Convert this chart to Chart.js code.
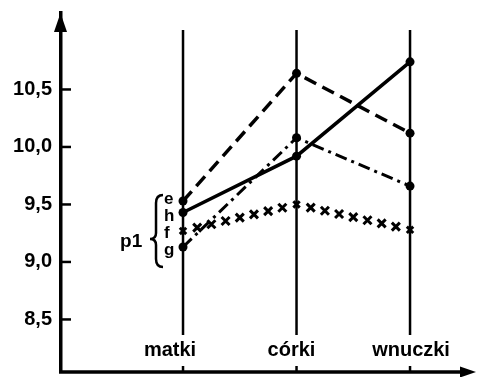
<!DOCTYPE html>
<html><head><meta charset="utf-8">
<script src="https://cdn.jsdelivr.net/npm/chart.js@4"></script>
<style>html,body{margin:0;padding:0;background:#fff;overflow:hidden}canvas{display:block}</style>
</head><body><canvas id="c" width="477" height="377"></canvas>
<script>
const categories = ['matki', 'córki', 'wnuczki'];
const seriesNames = ['e', 'h', 'f', 'g'];
const seriesE = [9.53, 10.64, 10.12];
const seriesH = [9.43, 9.92, 10.74];
const seriesF = [9.27, 9.50, 9.28];
const seriesG = [9.13, 10.08, 9.66];
const yTickValues = [8.5, 9.0, 9.5, 10.0, 10.5];
const yTickLabels = ['8,5', '9,0', '9,5', '10,0', '10,5'];
const groupLabel = 'p1';

const FONT = '"Liberation Sans", Arial, sans-serif';
const toPts = arr => arr.map((v, i) => ({x: i + 1, y: v}));

function drawCross(ctx, x, y, r) {
  ctx.beginPath();
  ctx.moveTo(x - r, y - r); ctx.lineTo(x + r, y + r);
  ctx.moveTo(x - r, y + r); ctx.lineTo(x + r, y - r);
  ctx.stroke();
}

const decor = {
  id: 'decor',
  beforeDatasetsDraw(chart) {
    const {ctx, chartArea: ca, scales: {x: xs, y: ys}} = chart;
    ctx.save();
    ctx.strokeStyle = '#000';
    ctx.fillStyle = '#000';
    // category vertical lines
    ctx.lineWidth = 2.5;
    categories.forEach((c, i) => {
      const px = xs.getPixelForValue(i + 1);
      ctx.beginPath();
      ctx.moveTo(px, ca.top + 17);
      ctx.lineTo(px, ca.bottom - 37);
      ctx.stroke();
      ctx.beginPath();
      ctx.moveTo(px, ca.bottom - 6);
      ctx.lineTo(px, ca.bottom);
      ctx.stroke();
    });
    // category labels
    const dx = [-13, -5, 1];
    ctx.font = 'bold 20px ' + FONT;
    ctx.textAlign = 'center';
    ctx.textBaseline = 'alphabetic';
    categories.forEach((c, i) => {
      const px = xs.getPixelForValue(i + 1);
      ctx.fillText(c, px + dx[i], ca.bottom - 16);
    });
    // x axis line + arrow
    ctx.lineWidth = 3.5;
    ctx.beginPath();
    ctx.moveTo(ca.left - 2, ca.bottom);
    ctx.lineTo(ca.right - 12, ca.bottom);
    ctx.stroke();
    ctx.beginPath();
    ctx.moveTo(ca.right - 1, ca.bottom);
    ctx.lineTo(ca.right - 17, ca.bottom - 5.5);
    ctx.lineTo(ca.right - 17, ca.bottom + 5.5);
    ctx.closePath();
    ctx.fill();
    // y axis arrow
    const ax = ca.left - 0.5;
    ctx.beginPath();
    ctx.moveTo(ax, ca.top);
    ctx.lineTo(ax - 6.5, ca.top + 19);
    ctx.lineTo(ax + 6.5, ca.top + 19);
    ctx.closePath();
    ctx.fill();
    // inner y ticks
    ctx.lineWidth = 2.5;
    yTickValues.forEach(v => {
      const py = ys.getPixelForValue(v);
      ctx.beginPath();
      ctx.moveTo(ca.left, py);
      ctx.lineTo(ca.left + 10, py);
      ctx.stroke();
    });
    // series letters at first category
    const x1 = xs.getPixelForValue(1);
    const yE = ys.getPixelForValue(seriesE[0]);
    ctx.font = 'bold 17px ' + FONT;
    ctx.textAlign = 'left';
    seriesNames.forEach((n, i) => {
      ctx.fillText(n, x1 - 19, yE + 3 + i * 17);
    });
    // brace
    const top = yE - 6, bot = yE + 66, mid = yE + 38;
    const xl = x1 - 33, xm = x1 - 27, xr = x1 - 20;
    ctx.lineWidth = 2.5;
    ctx.beginPath();
    ctx.moveTo(xr, top);
    ctx.quadraticCurveTo(xm, top, xm, top + 8);
    ctx.lineTo(xm, mid - 6);
    ctx.quadraticCurveTo(xm, mid, xl, mid);
    ctx.quadraticCurveTo(xm, mid, xm, mid + 6);
    ctx.lineTo(xm, bot - 8);
    ctx.quadraticCurveTo(xm, bot, xr, bot);
    ctx.stroke();
    ctx.font = 'bold 19px ' + FONT;
    ctx.fillText(groupLabel, x1 - 63, mid + 8);
    ctx.restore();
  },
  afterDatasetsDraw(chart) {
    const {ctx} = chart;
    const meta = chart.getDatasetMeta(2);
    const pts = meta.data;
    ctx.save();
    ctx.strokeStyle = '#000';
    ctx.lineWidth = 3;
    for (let i = 0; i < pts.length - 1; i++) {
      const a = pts[i], b = pts[i + 1];
      const d = Math.hypot(b.x - a.x, b.y - a.y);
      const n = Math.round(d / 14.5);
      for (let k = 1; k < n; k++) {
        const t = k / n;
        drawCross(ctx, a.x + (b.x - a.x) * t, a.y + (b.y - a.y) * t, 4);
      }
    }
    ctx.restore();
  }
};

new Chart(document.getElementById('c'), {
  type: 'line',
  data: {
    datasets: [
      {label: 'e', data: toPts(seriesE), borderColor: '#000', borderWidth: 3.5, borderDash: [13, 7],
       pointRadius: 4.5, pointBackgroundColor: '#000', pointBorderWidth: 0},
      {label: 'h', data: toPts(seriesH), borderColor: '#000', borderWidth: 3.5,
       pointRadius: 4.5, pointBackgroundColor: '#000', pointBorderWidth: 0},
      {label: 'f', data: toPts(seriesF), showLine: false, borderColor: '#000', pointStyle: 'crossRot',
       pointRadius: 4.5, pointBorderWidth: 3, pointBorderColor: '#000'},
      {label: 'g', data: toPts(seriesG), borderColor: '#000', borderWidth: 3, borderDash: [12, 5, 3, 5],
       pointRadius: 4.5, pointBackgroundColor: '#000', pointBorderWidth: 0}
    ]
  },
  options: {
    responsive: false,
    animation: false,
    devicePixelRatio: 1,
    layout: {autoPadding: false, padding: {top: 13, bottom: 5, left: 0, right: 0}},
    plugins: {legend: {display: false}, tooltip: {enabled: false}},
    elements: {line: {tension: 0}},
    scales: {
      x: {type: 'linear', min: -0.075, max: 3.59, display: false},
      y: {
        type: 'linear', min: 8.043, max: 11.165, position: 'left',
        afterFit: s => { s.width = 61; s.paddingTop = 0; s.paddingBottom = 0; s.paddingLeft = 0; s.paddingRight = 0; },
        afterBuildTicks: s => { s.ticks = yTickValues.map(v => ({value: v})); },
        grid: {display: false, drawTicks: false},
        border: {display: true, color: '#000', width: 3.5},
        ticks: {
          color: '#000', padding: 9,
          font: {family: FONT, size: 20, weight: 'bold'},
          callback: (v, i) => yTickLabels[i]
        }
      }
    }
  },
  plugins: [decor]
});
</script>
</body></html>
